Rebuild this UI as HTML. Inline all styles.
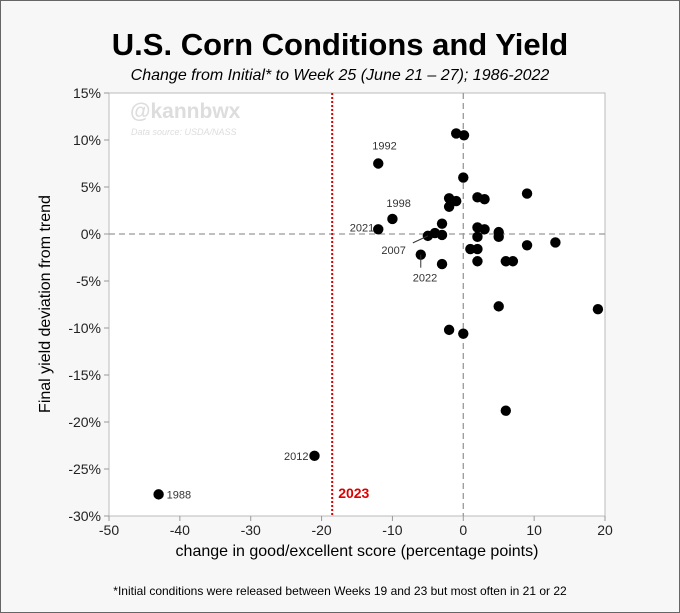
<!DOCTYPE html>
<html><head><meta charset="utf-8"><style>
body{margin:0;background:#f7f7f7;font-family:"Liberation Sans",sans-serif;}
#wrap{position:relative;width:678px;height:611px;background:#f7f7f7;border:1px solid #666;}
</style></head><body>
<div id="wrap">
<svg id="chart" width="680" height="613" style="position:absolute;left:-1px;top:-1px">
<text x="340" y="55" text-anchor="middle" font-size="31" font-weight="bold" fill="#000">U.S. Corn Conditions and Yield</text>
<text x="340" y="80" text-anchor="middle" font-size="16" font-style="italic" fill="#000">Change from Initial* to Week 25 (June 21 – 27); 1986-2022</text>
<rect x="109" y="93" width="496" height="423" fill="#fff" stroke="#bbb"/>
<text x="130" y="118" font-size="21" font-weight="bold" fill="#ddd">@kannbwx</text>
<text x="131" y="135" font-size="9" font-style="italic" fill="#ddd">Data source: USDA/NASS</text>
<g id="axes"></g>
<g id="marks"></g>
<text x="357" y="556" text-anchor="middle" font-size="16" fill="#000">change in good/excellent score (percentage points)</text>
<text transform="translate(50,304) rotate(-90)" text-anchor="middle" font-size="16" fill="#000">Final yield deviation from trend</text>
<text x="340" y="595" text-anchor="middle" font-size="12" fill="#000">*Initial conditions were released between Weeks 19 and 23 but most often in 21 or 22</text>
</svg>
</div>
<script>
const xVals=[-1,0.1,-12,0,9,-2,-1,2,3,-2,-10,-3,-12,2,3,5,5,-5,-4,-3,2,1,2,9,13,-6,-3,2,6,7,-2,0,5,19,6,-21,-43];
const yVals=[10.7,10.5,7.5,6.0,4.3,3.8,3.5,3.9,3.7,2.9,1.6,1.1,0.5,0.7,0.5,0.2,-0.3,-0.2,0.1,-0.1,-0.3,-1.6,-1.6,-1.2,-0.9,-2.2,-3.2,-2.9,-2.9,-2.9,-10.2,-10.6,-7.7,-8.0,-18.8,-23.6,-27.7];
const xTicks=[-50,-40,-30,-20,-10,0,10,20];
const yTicks=[15,10,5,0,-5,-10,-15,-20,-25,-30];
const refX=[-18.5];
const refLabel=["2023"];
const labelYears=["1992","1998","2021","2007","2022","2012","1988"];
const labelX=[-12,-10,-12,-5,-6,-21,-43];
const labelY=[7.5,1.6,0.5,-0.2,-2.2,-23.6,-27.7];
const NS="http://www.w3.org/2000/svg";
const sx=v=>109+(v+50)*496/70;
const sy=v=>234-v*141/15;
const axes=document.getElementById('axes'),marks=document.getElementById('marks');
function mk(tag,at,parent){const e=document.createElementNS(NS,tag);for(const k in at)e.setAttribute(k,at[k]);parent.appendChild(e);return e;}
xTicks.forEach(t=>{
 const l=mk('line',{x1:sx(t),x2:sx(t),y1:516,y2:521,stroke:'#999'},axes);
 
 
 const tx=mk('text',{x:sx(t),y:535,'text-anchor':'middle','font-size':14,fill:'#222'},axes);tx.textContent=t;
 
 
});
yTicks.forEach(t=>{
 const l=mk('line',{x1:104,x2:109,y1:sy(t),y2:sy(t),stroke:'#999'},axes);
 
 
 const tx=mk('text',{x:101,y:sy(t)+5,'text-anchor':'end','font-size':14,fill:'#222'},axes);tx.textContent=t+'%';
 
 
});
const h0=mk('line',{x1:109,x2:605,y1:sy(0),y2:sy(0),stroke:'#999','stroke-dasharray':'6,4','stroke-width':1.3},axes);


const v0=mk('line',{x1:sx(0),x2:sx(0),y1:93,y2:516,stroke:'#999','stroke-dasharray':'6,4','stroke-width':1.3},axes);


refX.forEach((r,i)=>{
 const l=mk('line',{x1:sx(r),x2:sx(r),y1:93,y2:516,stroke:'#d00','stroke-dasharray':'2,2','stroke-width':2},axes);
 
 
 const t=mk('text',{x:sx(r)+6,y:498,'font-size':14,'font-weight':'bold',fill:'#d00'},axes);t.textContent=refLabel[i];
 
 
});
xVals.forEach((x,i)=>{
 const c=mk('circle',{cx:sx(x),cy:sy(yVals[i]),r:5.2,fill:'#000'},marks);
 
 
});
const offs=[[-6,-14,'start'],[-6,-12,'start'],[-4,2,'end'],[-22,18,'end'],[-8,27,'start'],[-6,4,'end'],[8,4,'start']];
labelYears.forEach((y,i)=>{
 const px=sx(labelX[i]),py=sy(labelY[i]);
 const o=offs[i];
 const t=mk('text',{x:px+o[0],y:py+o[1],'text-anchor':o[2],'font-size':11,fill:'#333'},marks);t.textContent=y;
 
 
});
const l07=mk('line',{x1:sx(-5),y1:sy(-0.2),x2:sx(-5)-15,y2:sy(-0.2)+7,stroke:'#333'},marks);


const l22=mk('line',{x1:sx(-6),y1:sy(-2.2),x2:sx(-6),y2:sy(-2.2)+13,stroke:'#333'},marks);


</script>
</body></html>
